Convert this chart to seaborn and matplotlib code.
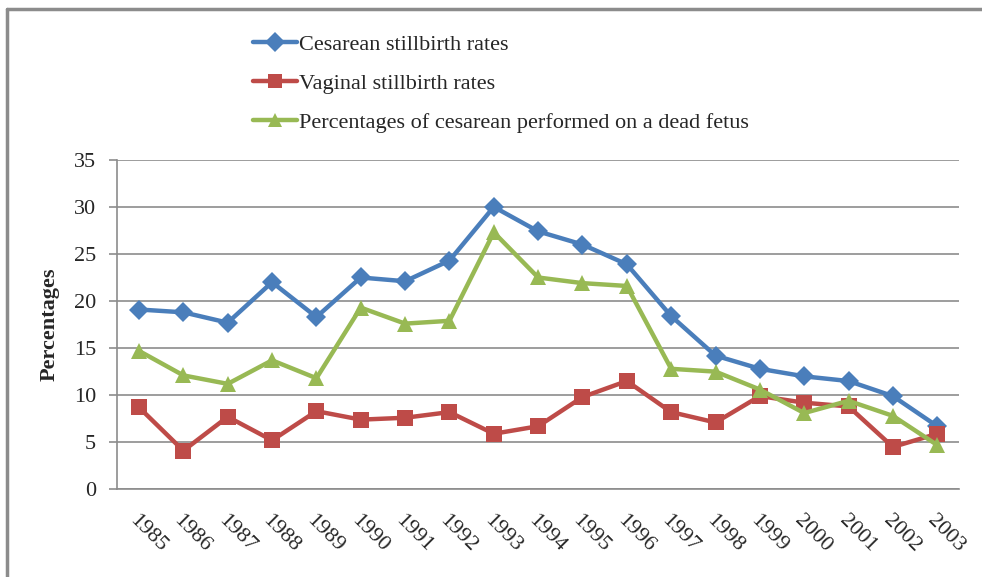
import pandas as pd
import seaborn as sns
import matplotlib.pyplot as plt
from matplotlib.lines import Line2D

# data
years = [1985, 1986, 1987, 1988, 1989, 1990, 1991, 1992, 1993, 1994,
         1995, 1996, 1997, 1998, 1999, 2000, 2001, 2002, 2003]
cesarean = [19.1, 18.8, 17.7, 22.0, 18.3, 22.5, 22.1, 24.3, 30.0, 27.4,
            26.0, 23.9, 18.4, 14.2, 12.8, 12.0, 11.5, 9.9, 6.7]
vaginal = [8.7, 4.1, 7.7, 5.2, 8.3, 7.4, 7.6, 8.2, 5.9, 6.7,
           9.8, 11.5, 8.2, 7.1, 9.9, 9.2, 8.8, 4.5, 5.9]
dead_fetus = [14.7, 12.1, 11.2, 13.7, 11.8, 19.3, 17.6, 17.9, 27.3, 22.5,
              21.9, 21.6, 12.8, 12.5, 10.6, 8.1, 9.4, 7.8, 4.7]

series_names = ["Cesarean stillbirth rates",
                "Vaginal stillbirth rates",
                "Percentages of cesarean performed on a dead fetus"]
colors = ["#4a7ebb", "#be4b48", "#98b954"]
markers = ["D", "s", "^"]

df = pd.DataFrame({"Year": [str(y) for y in years] * 3,
                   "Value": cesarean + vaginal + dead_fetus,
                   "Series": [n for n in series_names for _ in years]})

sns.set_style("white")
plt.rcParams['font.family'] = ['Liberation Serif', 'DejaVu Serif']

fig = plt.figure(figsize=(9.82, 5.77), dpi=100)
ax = fig.add_axes([0.119, 0.152, 0.858, 0.571])

sns.lineplot(data=df, x="Year", y="Value", hue="Series", style="Series",
             palette=colors, markers=markers, dashes=False, linewidth=3.2,
             markersize=11, markeredgewidth=0, sort=False, ax=ax, legend=False)
# diamonds a bit smaller
for line, ms in zip(ax.lines, [10.5, 11.5, 12]):
    line.set_markersize(ms)

ax.set_ylim(0, 35)
ax.set_yticks(range(0, 36, 5))
ax.set_xlim(-0.5, len(years) - 0.5)
ax.yaxis.grid(True, color="#8c8c8c", linewidth=1.2)
ax.set_axisbelow(True)
for s in ["top", "right"]:
    ax.spines[s].set_visible(False)
for s in ["left", "bottom"]:
    ax.spines[s].set_color("#8c8c8c")
    ax.spines[s].set_linewidth(1.2)
ax.tick_params(axis="y", left=True, length=6, color="#8c8c8c", width=1.2,
               labelsize=16, pad=9)
ax.tick_params(axis="x", bottom=False, labelsize=16, pad=12)
for lab in ax.get_xticklabels():
    lab.set_rotation(-45)
    lab.set_ha("left")
    lab.set_va("top")
    lab.set_rotation_mode("anchor")
ax.set_xlabel("")
ax.set_ylabel("Percentages", fontsize=16, fontweight="bold", labelpad=10)

handles = [Line2D([0], [0], color=c, marker=m, linewidth=3.2, markersize=10,
                  markeredgewidth=0) for c, m in zip(colors, markers)]
fig.legend(handles, series_names, loc="upper left",
           bbox_to_anchor=(0.237, 0.975), frameon=False, fontsize=16,
           handlelength=2.0, handletextpad=0.1, labelspacing=0.82)

# chart frame (top and left edges)
fig.add_artist(Line2D([0.007, 1.0], [0.984, 0.984], color="#8c8c8c", linewidth=2.5))
fig.add_artist(Line2D([0.007, 0.007], [0.0, 0.984], color="#8c8c8c", linewidth=2.5))

fig.savefig("out.png", dpi=100)
